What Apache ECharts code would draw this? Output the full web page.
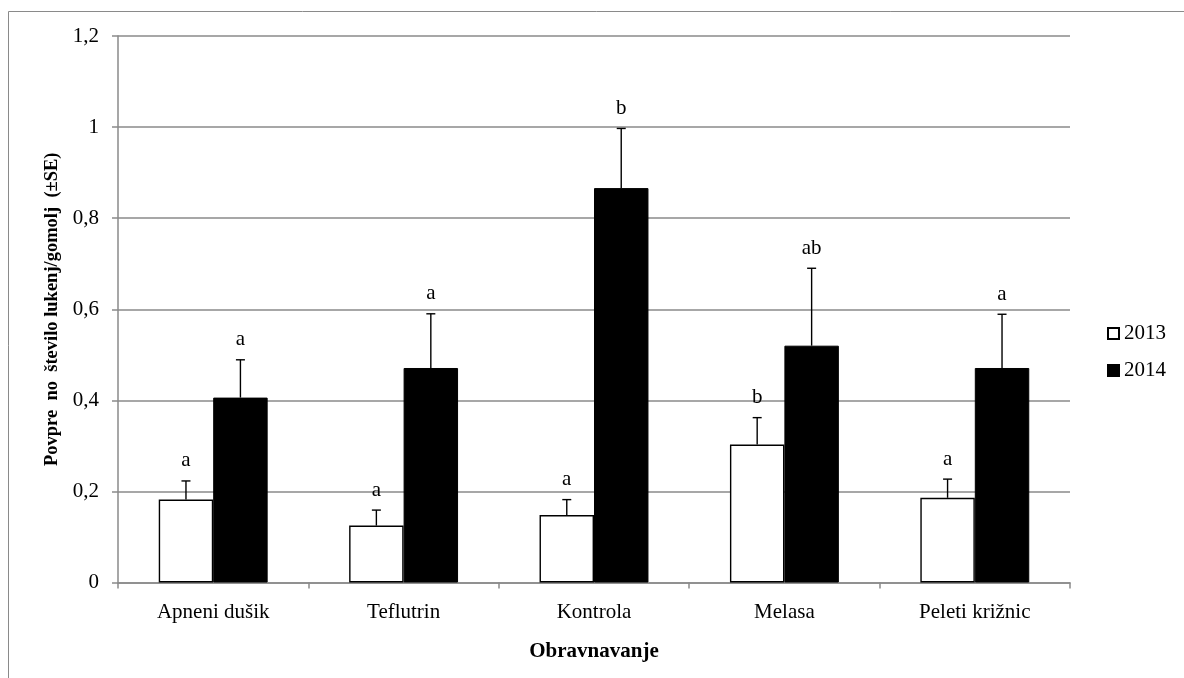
<!DOCTYPE html>
<html>
<head>
<meta charset="utf-8">
<title>Obravnavanje</title>
<script src="https://cdn.jsdelivr.net/npm/echarts@6/dist/echarts.min.js"></script>
<style>
  html, body { margin: 0; padding: 0; background: #fff; }
  #chart { width: 1184px; height: 678px; }
</style>
</head>
<body>
<div id="chart"></div>
<script>
// categories (treatments)
const categories = ['Apneni dušik', 'Teflutrin', 'Kontrola', 'Melasa', 'Peleti križnic'];
// mean number of holes per tuber
const mean2013 = [0.182, 0.125, 0.148, 0.303, 0.186];
const mean2014 = [0.406, 0.471, 0.866, 0.520, 0.471];
// standard errors (upper whisker only)
const se2013 = [0.041, 0.034, 0.034, 0.059, 0.041];
const se2014 = [0.083, 0.119, 0.131, 0.170, 0.118];
// significance letters
const letters2013 = ['a', 'a', 'a', 'b', 'a'];
const letters2014 = ['a', 'a', 'b', 'ab', 'a'];
// y tick labels (comma decimals)
const yTickLabels = ['0', '0,2', '0,4', '0,6', '0,8', '1', '1,2'];

const FONT = "'Liberation Serif', 'Times New Roman', serif";
const barFrac = 0.286; // share of the category band per bar

const chart = echarts.init(document.getElementById('chart'));

function errorSeries(name, means, errs, letters, sign) {
  return {
    type: 'custom',
    name: name + ' SE',
    z: 5,
    silent: true,
    data: means.map((m, i) => [i, m, errs[i]]),
    renderItem(params, api) {
      const i = api.value(0);
      const m = api.value(1);
      const e = api.value(2);
      const band = api.size([1, 0])[0];
      const p0 = api.coord([i, m]);
      const p1 = api.coord([i, m + e]);
      const x = p0[0] + sign * band * barFrac / 2;
      const ln = { stroke: '#000', lineWidth: 1.4 };
      return {
        type: 'group',
        children: [
          { type: 'line', shape: { x1: x, y1: p0[1], x2: x, y2: p1[1] }, style: ln },
          { type: 'line', shape: { x1: x - 4.5, y1: p1[1], x2: x + 4.5, y2: p1[1] }, style: ln },
          {
            type: 'text', x: x, y: p1[1] - 20,
            style: {
              text: letters[i], fill: '#000', font: '21px ' + FONT,
              textAlign: 'center', textVerticalAlign: 'middle'
            }
          }
        ]
      };
    }
  };
}

chart.setOption({
  animation: false,
  textStyle: { fontFamily: FONT, color: '#000' },
  graphic: [{
    type: 'rect',
    shape: { x: 8.5, y: 11.5, width: 1300, height: 800 },
    style: { fill: 'none', stroke: '#8a8a8a', lineWidth: 1 }
  }],
  grid: { left: 118, right: 114, top: 36, bottom: 95.5 },
  legend: {
    data: ['2013', '2014'],
    orient: 'vertical',
    left: 1107,
    top: 323,
    padding: 0,
    icon: 'rect',
    itemWidth: 11,
    itemHeight: 11,
    itemGap: 16,
    textStyle: { fontFamily: FONT, fontSize: 21, color: '#000' }
  },
  xAxis: {
    type: 'category',
    data: categories,
    name: 'Obravnavanje',
    nameLocation: 'middle',
    nameGap: 59,
    nameTextStyle: { fontFamily: FONT, fontSize: 21, fontWeight: 'bold', color: '#000' },
    axisLine: { lineStyle: { color: '#8a8a8a', width: 1.5 } },
    axisTick: { show: true, length: 6, lineStyle: { color: '#8a8a8a', width: 1.5 } },
    axisLabel: { fontFamily: FONT, fontSize: 21, color: '#000', margin: 19 }
  },
  yAxis: {
    type: 'value',
    min: 0,
    max: 1.2,
    interval: 0.2,
    name: 'Povpre  no  število lukenj/gomolj  (±SE)',
    nameLocation: 'middle',
    nameGap: 56,
    nameTextStyle: { fontFamily: FONT, fontSize: 18.5, fontWeight: 'bold', color: '#000' },
    axisLine: { show: true, lineStyle: { color: '#8a8a8a', width: 1.5 } },
    axisTick: { show: true, length: 6, lineStyle: { color: '#8a8a8a', width: 1.5 } },
    splitLine: { lineStyle: { color: '#8a8a8a', width: 1.5 } },
    axisLabel: {
      fontFamily: FONT, fontSize: 21, color: '#000', margin: 19,
      formatter: v => yTickLabels[Math.round(v / 0.2)]
    }
  },
  series: [
    {
      name: '2013',
      type: 'bar',
      data: mean2013,
      barWidth: (barFrac * 100) + '%',
      barGap: '0%',
      itemStyle: { color: '#fff', borderColor: '#000', borderWidth: 1.4 }
    },
    {
      name: '2014',
      type: 'bar',
      data: mean2014,
      barWidth: (barFrac * 100) + '%',
      barGap: '0%',
      itemStyle: { color: '#000', borderColor: '#000', borderWidth: 1 }
    },
    errorSeries('2013', mean2013, se2013, letters2013, -1),
    errorSeries('2014', mean2014, se2014, letters2014, 1)
  ]
});
</script>
</body>
</html>
